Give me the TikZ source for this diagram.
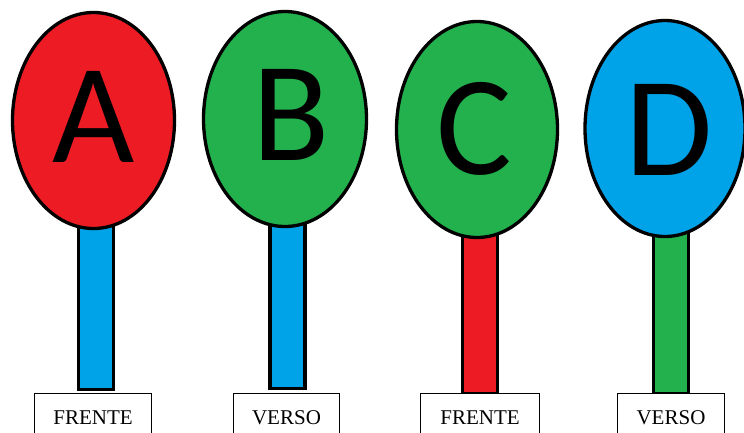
\documentclass[tikz,border=0pt]{standalone}
\usepackage{fontspec}
\setmainfont{Liberation Serif}
\newfontfamily\letterfont{Carlito}
\usetikzlibrary{shapes.geometric}
\definecolor{pred}{HTML}{ED1C24}
\definecolor{pgreen}{HTML}{22B14C}
\definecolor{pblue}{HTML}{00A2E8}
\begin{document}
\begin{tikzpicture}[x=1pt,y=-1pt,
  head/.style={ellipse, draw=black, line width=3.3pt, inner sep=0pt},
  letter/.style={inner sep=0pt, font=\letterfont\fontsize{142}{142}\selectfont},
  stick/.style={rectangle, draw=black, line width=3.3pt, inner sep=0pt,
    minimum width=35pt, anchor=north},
  labelbox/.style={rectangle, draw=black, line width=1.5pt, inner sep=0pt,
    anchor=north west, minimum height=80pt, fill=white},
  labeltext/.style={font=\fontsize{21}{24}\selectfont, anchor=base, inner sep=0pt}]
\useasboundingbox (0,0) rectangle (744,432);
\clip (0,0) rectangle (744,432);

% sticks (behind heads)
\node[stick, fill=pblue,  minimum height=267.5pt] (sa) at (96,120) {};
\node[stick, fill=pblue,  minimum height=267.5pt] (sb) at (287.5,119) {};
\node[stick, fill=pred,   minimum height=262pt] (sc) at (480,129.5) {};
\node[stick, fill=pgreen, minimum height=262pt] (sd) at (671,129.5) {};

% heads
\node[head, fill=pred,   minimum width=162pt, minimum height=216pt] (ha) at (93.5,120.5) {};
\node[head, fill=pgreen, minimum width=163pt, minimum height=215pt] (hb) at (285,119) {};
\node[head, fill=pgreen, minimum width=161pt, minimum height=216pt] (hc) at (477,129.5) {};
\node[head, fill=pblue,  minimum width=160pt, minimum height=216pt] (hd) at (665,128.5) {};

\node[letter] (xa) at ([yshift=4pt]ha.center) {A};
\node[letter] (xb) at ([xshift=6pt,yshift=4pt]hb.center) {B};
\node[letter] (xc) at ([xshift=-3pt,yshift=1pt]hc.center) {C};
\node[letter] (xd) at ([xshift=4pt,yshift=-1pt]hd.center) {D};

% label boxes
\node[labelbox, minimum width=117pt] (la) at (33.75,392.75) {};
\node[labelbox, minimum width=106pt] (lb) at (232.75,392.75) {};
\node[labelbox, minimum width=119pt] (lc) at (419.75,392.75) {};
\node[labelbox, minimum width=107pt] (ld) at (616.75,392.75) {};

\node[labeltext] (ta) at ([yshift=-31.5pt]la.north) {FRENTE};
\node[labeltext] (tb) at ([yshift=-31.5pt]lb.north) {VERSO};
\node[labeltext] (tc) at ([yshift=-31.5pt]lc.north) {FRENTE};
\node[labeltext] (td) at ([yshift=-31.5pt]ld.north) {VERSO};
\end{tikzpicture}
\end{document}
